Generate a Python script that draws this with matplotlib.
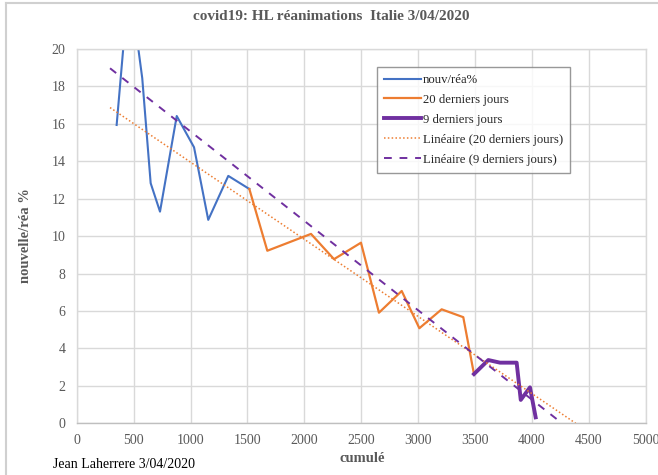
import matplotlib
matplotlib.use("Agg")
import matplotlib.pyplot as plt
from matplotlib.lines import Line2D

plt.rcParams['font.family'] = ['Liberation Serif', 'DejaVu Serif']

# Data
blue_x = [351, 461, 576, 650, 732, 879, 1031, 1156, 1332, 1517]
blue_y = [15.94, 23.7, 18.44, 12.83, 11.31, 16.42, 14.75, 10.87, 13.22, 12.52]

orange_x = [1517, 1675, 2059, 2261, 2498, 2656, 2856, 3011, 3207, 3397, 3491]
orange_y = [12.52, 9.22, 10.12, 8.77, 9.65, 5.91, 7.07, 5.08, 6.09, 5.67, 2.63]

purple_x = [3491, 3617, 3720, 3866, 3902, 3983, 4033]
purple_y = [2.63, 3.38, 3.24, 3.24, 1.25, 1.92, 0.32]

trend20_x = [293, 4385]
trend20_y = [16.87, 0.0]
trend9_x = [293, 4265]
trend9_y = [18.97, 0.0]

x_ticks = [0, 500, 1000, 1500, 2000, 2500, 3000, 3500, 4000, 4500, 5000]
y_ticks = [0, 2, 4, 6, 8, 10, 12, 14, 16, 18, 20]

W, H = 658, 475
fig = plt.figure(figsize=(W / 100, H / 100), dpi=100)
L, R, T, B = 76.7, 645.7, 49, 423.3
ax = fig.add_axes([L / W, 1 - B / H, (R - L) / W, (B - T) / H])

grid_c = '#d9d9d9'
text_c = '#595959'

ax.plot(blue_x, blue_y, color='#4472C4', lw=1.5, label='nouv/réa%')
ax.plot(orange_x, orange_y, color='#ED7D31', lw=1.6, label='20 derniers jours')
ax.plot(purple_x, purple_y, color='#7030A0', lw=2.8, label='9 derniers jours')
ax.plot(trend20_x, trend20_y, color='#ED7D31', lw=1.1, ls=(0, (1, 1.5)),
        label='Linéaire (20 derniers jours)')
ax.plot(trend9_x, trend9_y, color='#7030A0', lw=1.4, ls=(0, (4, 4)),
        label='Linéaire (9 derniers jours)')

ax.set_xlim(0, 5000)
ax.set_ylim(0, 20)
ax.set_xticks(x_ticks)
ax.set_yticks(y_ticks)
ax.grid(True, color=grid_c, lw=1)
ax.set_axisbelow(True)
for s in ax.spines.values():
    s.set_color(grid_c)
    s.set_linewidth(1)
ax.spines['bottom'].set_color('#bfbfbf')
ax.tick_params(length=0, colors=text_c, labelsize=10)
ax.tick_params(axis='y', pad=8)
ax.tick_params(axis='x', pad=8)

fig.text(331 / W, 1 - 17 / H, 'covid19: HL réanimations  Italie 3/04/2020',
         ha='center', va='center', fontsize=11, fontweight='bold', color=text_c)
fig.text(26 / W, 1 - 236 / H, 'nouvelle/réa %', rotation=90, ha='center',
         va='center', fontsize=10.5, fontweight='bold', color=text_c)
fig.text(362 / W, 1 - 458 / H, 'cumulé', ha='center', va='center',
         fontsize=10.5, fontweight='bold', color=text_c)
fig.text(53 / W, 1 - 465 / H, 'Jean Laherrere 3/04/2020', ha='left',
         va='center', fontsize=10, color='black')

leg = fig.legend(loc='upper left', bbox_to_anchor=(377 / W, 1 - 67 / H),
                 borderaxespad=0, fontsize=9.2, frameon=True, fancybox=False,
                 handlelength=2.9, handletextpad=0.15, labelspacing=0.62,
                 borderpad=0.55, borderaxespad_=None) if False else fig.legend(
                 loc='upper left', bbox_to_anchor=(377 / W, 1 - 67 / H),
                 borderaxespad=0, fontsize=9.2, frameon=True, fancybox=False,
                 handlelength=2.9, handletextpad=0.15, labelspacing=0.62,
                 borderpad=0.55)
leg.get_frame().set_edgecolor('#7f7f7f')
leg.get_frame().set_linewidth(1)
for t in leg.get_texts():
    t.set_color('#262626')

# outer chart frame (cropped)
fig.add_artist(Line2D([6 / W, 6 / W], [1 - 3 / H, 0], transform=fig.transFigure,
                      color='#d0d0d0', lw=1.5))
fig.add_artist(Line2D([6 / W, 1], [1 - 3 / H, 1 - 3 / H], transform=fig.transFigure,
                      color='#d0d0d0', lw=1.5))

fig.savefig('out.png', dpi=100)
